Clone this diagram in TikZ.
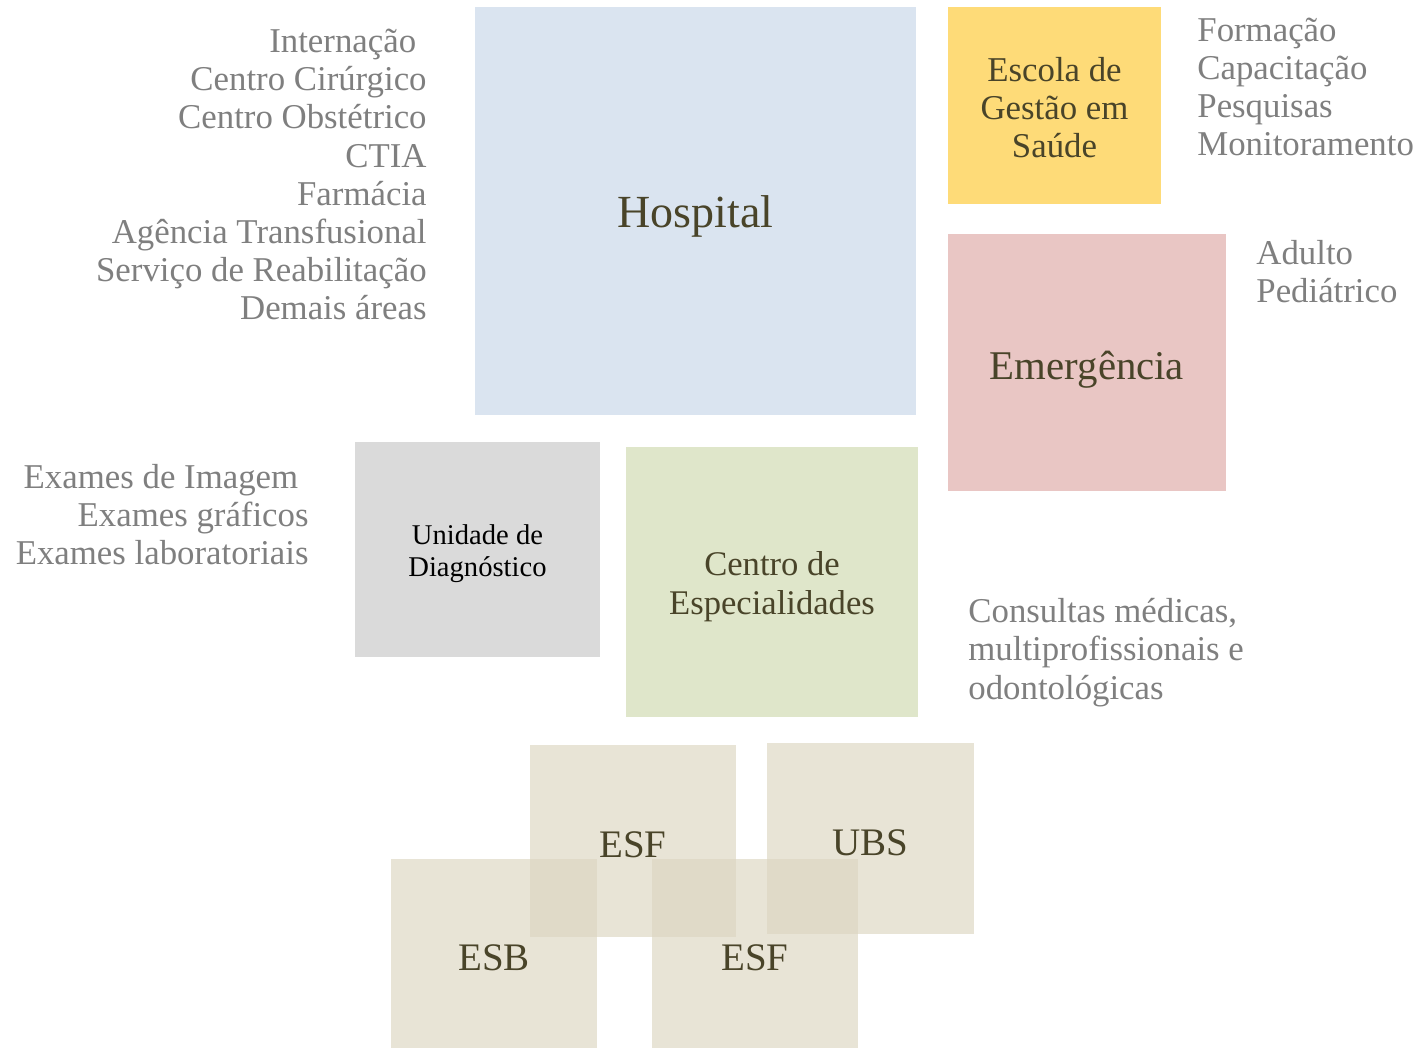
\documentclass[tikz,border=0pt]{standalone}
\usepackage{fontspec}
\setmainfont{Liberation Serif}
\usetikzlibrary{positioning}
\definecolor{azulhosp}{HTML}{DAE4F0}
\definecolor{amarelo}{HTML}{FEDB78}
\definecolor{rosa}{HTML}{E9C6C4}
\definecolor{cinzaclaro}{HTML}{DADADA}
\definecolor{verdeclaro}{HTML}{DFE6CA}
\definecolor{basica}{RGB}{220,213,192}
\definecolor{rotulo}{HTML}{494429}
\definecolor{cinza}{HTML}{7F7F7F}

\begin{document}
\begin{tikzpicture}[x=0.5pt,y=-0.5pt,
	caixa/.style={rectangle,inner sep=0pt,align=center,text=rotulo},
	lista/.style={inner sep=0pt,text=cinza,font=\fontsize{17.4}{19.1}\selectfont},
	atencao/.style={caixa,fill=basica,fill opacity=0.65,text opacity=1,minimum width=103pt,minimum height=96pt,
		text height=16.5pt,text depth=0pt,font=\fontsize{19.5}{22}\selectfont}
]
\useasboundingbox (0,0) rectangle (1426,1048);

\node (hospital) [caixa,fill=azulhosp,minimum width=220.5pt,minimum height=204pt,text height=21.7pt,text depth=5pt,font=\fontsize{23}{26}\selectfont] at (695.5,211) {Hospital};
\node (escola) [caixa,fill=amarelo,minimum width=106.5pt,minimum height=98.5pt,text height=52pt,text depth=0pt,font=\fontsize{17.4}{19.1}\selectfont] at (1054.5,105.5) {Escola de\\Gestão em\\Saúde};
\node (emergencia) [caixa,fill=rosa,minimum width=139pt,minimum height=128.5pt,text height=22pt,text depth=4.5pt,font=\fontsize{20.4}{23}\selectfont] at (1087,362.5) {Emergência};
\node (diagnostico) [caixa,fill=cinzaclaro,text=black,minimum width=122.5pt,minimum height=107.5pt,text height=29.8pt,text depth=3.1pt,font=\fontsize{14.3}{16}\selectfont] at (477.5,549.5) {Unidade de\\Diagnóstico};
\node (especialidades) [caixa,fill=verdeclaro,minimum width=146pt,minimum height=135pt,text height=36.3pt,text depth=3.75pt,font=\fontsize{17.3}{19.5}\selectfont] at (772,582) {Centro de\\Especialidades};

% atencao basica
\node (esfA) [atencao] at (633,841) {ESF};
\node (ubs) [atencao,minimum width=103.5pt,minimum height=95.5pt] at (870.5,838.5) {UBS};
\node (esb) [atencao,minimum height=94.5pt] at (494,953.5) {ESB};
\node (esfB) [atencao,minimum height=94.5pt] at (755,953.5) {ESF};

% listas
\node (servicos) [lista,align=right,anchor=base east] at (427,320) {Internação\hspace*{0.3em}\\Centro Cirúrgico\\Centro Obstétrico\\CTIA\\Farmácia\\Agência Transfusional\\Serviço de Reabilitação\\Demais áreas};
\node (ensino) [lista,align=left,anchor=base west] at (1197,156) {Formação\\Capacitação\\Pesquisas\\Monitoramento};
\node (publico) [lista,align=left,anchor=base west] at (1256,303) {Adulto\\Pediátrico};
\node (exames) [lista,align=right,anchor=base east] at (309,565) {Exames de Imagem\hspace*{0.3em}\\Exames gráficos\\Exames laboratoriais};
\node (consultas) [lista,align=left,anchor=base west] at (968,699) {Consultas médicas,\\multiprofissionais e\\odontológicas};
\end{tikzpicture}
\end{document}
